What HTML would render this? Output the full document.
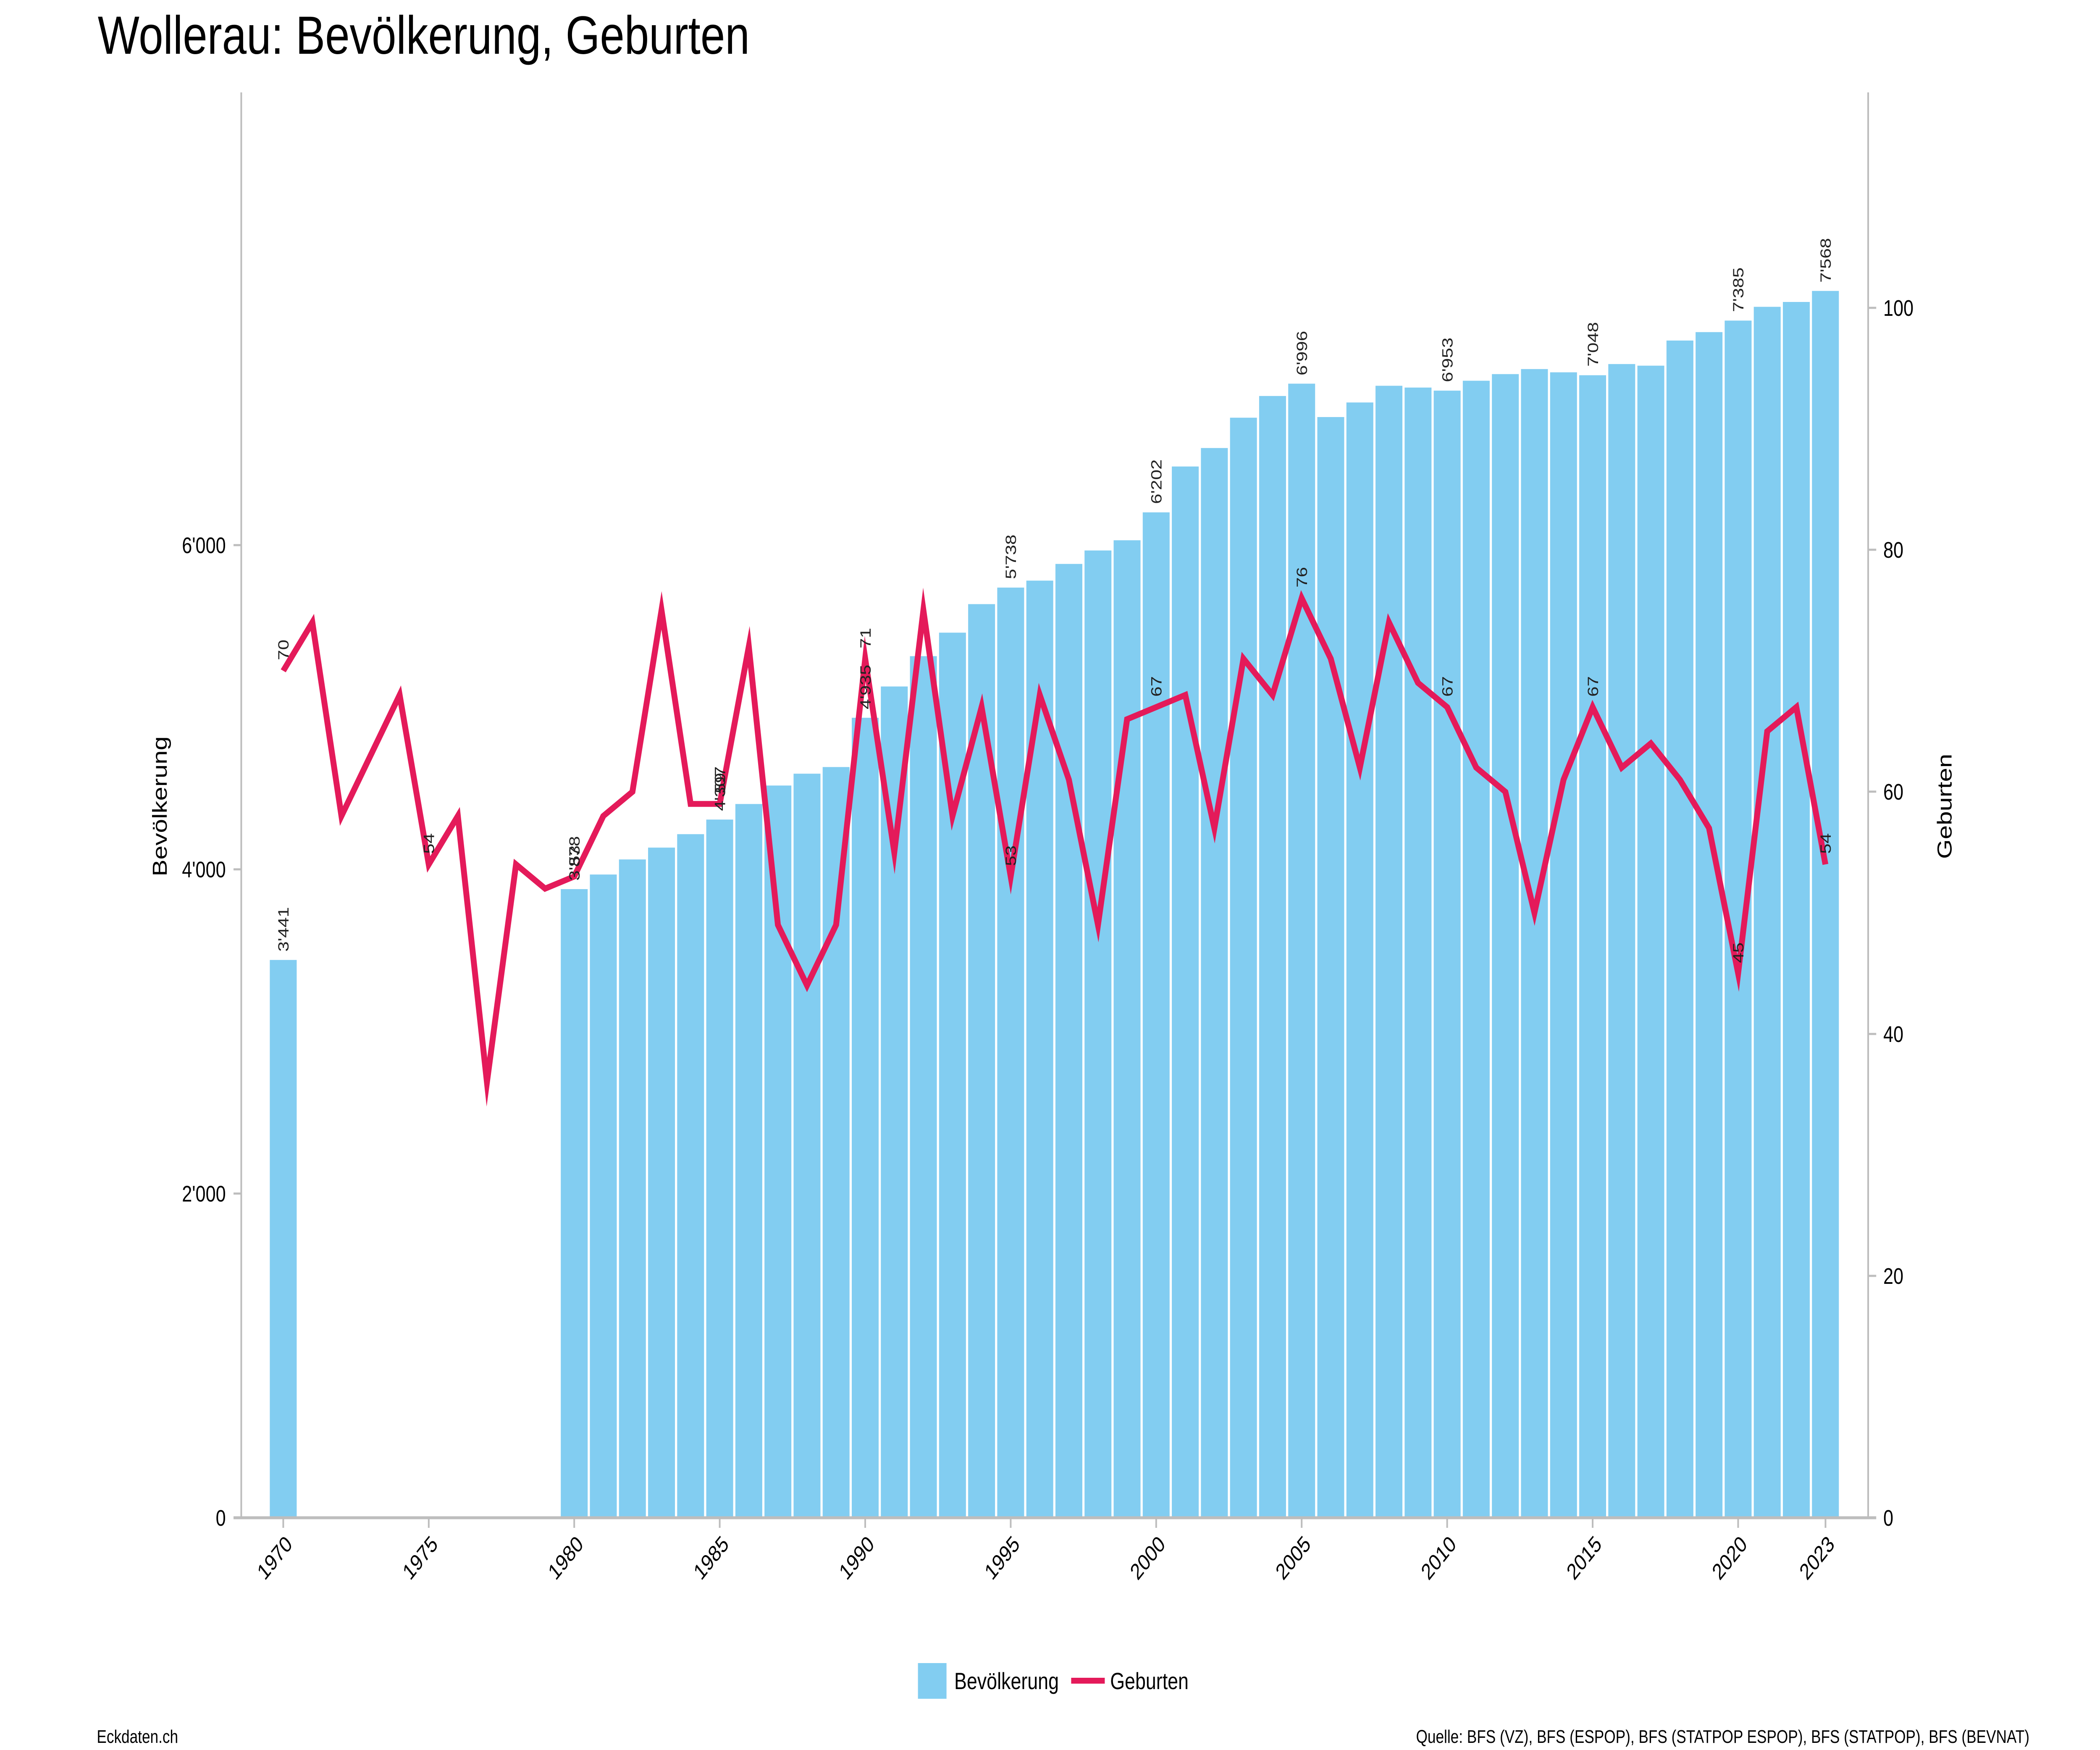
<!DOCTYPE html>
<html><head><meta charset="utf-8"><style>html,body{margin:0;padding:0;background:#fff;width:100%;height:100%;overflow:hidden}svg{display:block;width:100vw;height:100vh}</style></head>
<body>
<svg xmlns="http://www.w3.org/2000/svg" viewBox="0 0 6250 4167" preserveAspectRatio="none" font-family="'Liberation Sans', sans-serif">
<rect width="6250" height="4167" fill="#fff"/>
<text x="291" y="128" font-size="128" textLength="1940" lengthAdjust="spacingAndGlyphs" fill="#000">Wollerau: Bevölkerung, Geburten</text>

<g transform="translate(843,3614) scale(86.6,-0.386)" fill="#82cdf1">
<rect x="-0.462" y="0" width="0.924" height="3441"/>
<rect x="9.538" y="0" width="0.924" height="3878"/>
<rect x="10.538" y="0" width="0.924" height="3968"/>
<rect x="11.538" y="0" width="0.924" height="4061"/>
<rect x="12.538" y="0" width="0.924" height="4134"/>
<rect x="13.538" y="0" width="0.924" height="4217"/>
<rect x="14.538" y="0" width="0.924" height="4307"/>
<rect x="15.538" y="0" width="0.924" height="4403"/>
<rect x="16.538" y="0" width="0.924" height="4517"/>
<rect x="17.538" y="0" width="0.924" height="4590"/>
<rect x="18.538" y="0" width="0.924" height="4631"/>
<rect x="19.538" y="0" width="0.924" height="4935"/>
<rect x="20.538" y="0" width="0.924" height="5128"/>
<rect x="21.538" y="0" width="0.924" height="5315"/>
<rect x="22.538" y="0" width="0.924" height="5460"/>
<rect x="23.538" y="0" width="0.924" height="5636"/>
<rect x="24.538" y="0" width="0.924" height="5738"/>
<rect x="25.538" y="0" width="0.924" height="5781"/>
<rect x="26.538" y="0" width="0.924" height="5884"/>
<rect x="27.538" y="0" width="0.924" height="5967"/>
<rect x="28.538" y="0" width="0.924" height="6030"/>
<rect x="29.538" y="0" width="0.924" height="6202"/>
<rect x="30.538" y="0" width="0.924" height="6485"/>
<rect x="31.538" y="0" width="0.924" height="6599"/>
<rect x="32.538" y="0" width="0.924" height="6786"/>
<rect x="33.538" y="0" width="0.924" height="6920"/>
<rect x="34.538" y="0" width="0.924" height="6996"/>
<rect x="35.538" y="0" width="0.924" height="6790"/>
<rect x="36.538" y="0" width="0.924" height="6880"/>
<rect x="37.538" y="0" width="0.924" height="6983"/>
<rect x="38.538" y="0" width="0.924" height="6972"/>
<rect x="39.538" y="0" width="0.924" height="6953"/>
<rect x="40.538" y="0" width="0.924" height="7014"/>
<rect x="41.538" y="0" width="0.924" height="7055"/>
<rect x="42.538" y="0" width="0.924" height="7086"/>
<rect x="43.538" y="0" width="0.924" height="7066"/>
<rect x="44.538" y="0" width="0.924" height="7048"/>
<rect x="45.538" y="0" width="0.924" height="7117"/>
<rect x="46.538" y="0" width="0.924" height="7107"/>
<rect x="47.538" y="0" width="0.924" height="7262"/>
<rect x="48.538" y="0" width="0.924" height="7314"/>
<rect x="49.538" y="0" width="0.924" height="7385"/>
<rect x="50.538" y="0" width="0.924" height="7470"/>
<rect x="51.538" y="0" width="0.924" height="7500"/>
<rect x="52.538" y="0" width="0.924" height="7568"/>
</g>

<g stroke="#bdbdbd" stroke-width="5" fill="none">
<line x1="718" y1="220" x2="718" y2="3614"/>
<line x1="5560" y1="220" x2="5560" y2="3614"/>
<line x1="695" y1="3614" x2="5584" y2="3614" stroke-width="7"/>
<line x1="695" y1="2842" x2="718" y2="2842"/>
<line x1="695" y1="2070" x2="718" y2="2070"/>
<line x1="695" y1="1298" x2="718" y2="1298"/>
<line x1="5560" y1="3038" x2="5584" y2="3038"/>
<line x1="5560" y1="2462" x2="5584" y2="2462"/>
<line x1="5560" y1="1885" x2="5584" y2="1885"/>
<line x1="5560" y1="1309" x2="5584" y2="1309"/>
<line x1="5560" y1="733" x2="5584" y2="733"/>
<line x1="843" y1="3614" x2="843" y2="3638"/>
<line x1="1276" y1="3614" x2="1276" y2="3638"/>
<line x1="1709" y1="3614" x2="1709" y2="3638"/>
<line x1="2142" y1="3614" x2="2142" y2="3638"/>
<line x1="2575" y1="3614" x2="2575" y2="3638"/>
<line x1="3008" y1="3614" x2="3008" y2="3638"/>
<line x1="3441" y1="3614" x2="3441" y2="3638"/>
<line x1="3874" y1="3614" x2="3874" y2="3638"/>
<line x1="4307" y1="3614" x2="4307" y2="3638"/>
<line x1="4740" y1="3614" x2="4740" y2="3638"/>
<line x1="5173" y1="3614" x2="5173" y2="3638"/>
<line x1="5433" y1="3614" x2="5433" y2="3638"/>
</g>

<g transform="translate(843,3614) scale(86.6,-28.81)">
<polyline fill="none" stroke="#e41a5a" stroke-width="14" vector-effect="non-scaling-stroke" stroke-linejoin="miter" stroke-miterlimit="10"
points="0,70 1,74 2,58 3,63 4,68 5,54 6,58 7,36 8,54 9,52 10,53 11,58 12,60 13,75 14,59 15,59 16,72 17,49 18,44 19,49 20,71 21,55 22,75 23,58 24,67 25,53 26,68 27,61 28,49 29,66 30,67 31,68 32,57 33,71 34,68 35,76 36,71 37,62 38,74 39,69 40,67 41,62 42,60 43,50 44,61 45,67 46,62 47,64 48,61 49,57 50,45 51,65 52,67 53,54"/>
</g>

<g font-size="54" fill="#000">
<text x="672" y="3633" text-anchor="end">0</text>
<text x="672" y="2861" text-anchor="end">2'000</text>
<text x="672" y="2089" text-anchor="end">4'000</text>
<text x="672" y="1317" text-anchor="end">6'000</text>
<text x="5605" y="3633">0</text>
<text x="5605" y="3057">20</text>
<text x="5605" y="2481">40</text>
<text x="5605" y="1904">60</text>
<text x="5605" y="1328">80</text>
<text x="5605" y="752">100</text>
<g text-anchor="end">
<text transform="translate(873,3680) rotate(-45)">1970</text>
<text transform="translate(1306,3680) rotate(-45)">1975</text>
<text transform="translate(1739,3680) rotate(-45)">1980</text>
<text transform="translate(2172,3680) rotate(-45)">1985</text>
<text transform="translate(2605,3680) rotate(-45)">1990</text>
<text transform="translate(3038,3680) rotate(-45)">1995</text>
<text transform="translate(3471,3680) rotate(-45)">2000</text>
<text transform="translate(3904,3680) rotate(-45)">2005</text>
<text transform="translate(4337,3680) rotate(-45)">2010</text>
<text transform="translate(4770,3680) rotate(-45)">2015</text>
<text transform="translate(5203,3680) rotate(-45)">2020</text>
<text transform="translate(5463,3680) rotate(-45)">2023</text>
</g>
</g>

<text transform="translate(496,1920) rotate(-90)" text-anchor="middle" font-size="60" fill="#000">Bevölkerung</text>
<text transform="translate(5808,1920) rotate(-90)" text-anchor="middle" font-size="60" fill="#000">Geburten</text>

<g font-size="44" fill="#222">
<text transform="translate(859,2266) rotate(-90)">3'441</text>
<text transform="translate(1725,2097) rotate(-90)">3'878</text>
<text transform="translate(2158,1931) rotate(-90)">4'307</text>
<text transform="translate(2591,1689) rotate(-90)">4'935</text>
<text transform="translate(3024,1379) rotate(-90)">5'738</text>
<text transform="translate(3457,1200) rotate(-90)">6'202</text>
<text transform="translate(3890,894) rotate(-90)">6'996</text>
<text transform="translate(4323,910) rotate(-90)">6'953</text>
<text transform="translate(4756,873) rotate(-90)">7'048</text>
<text transform="translate(5189,743) rotate(-90)">7'385</text>
<text transform="translate(5449,673) rotate(-90)">7'568</text>

<text transform="translate(859,1572) rotate(-90)">70</text>
<text transform="translate(1292,2033) rotate(-90)">54</text>
<text transform="translate(1725,2062) rotate(-90)">53</text>
<text transform="translate(2158,1889) rotate(-90)">59</text>
<text transform="translate(2591,1544) rotate(-90)">71</text>
<text transform="translate(3024,2062) rotate(-90)">53</text>
<text transform="translate(3457,1659) rotate(-90)">67</text>
<text transform="translate(3890,1399) rotate(-90)">76</text>
<text transform="translate(4323,1659) rotate(-90)">67</text>
<text transform="translate(4756,1659) rotate(-90)">67</text>
<text transform="translate(5189,2293) rotate(-90)">45</text>
<text transform="translate(5449,2033) rotate(-90)">54</text>
</g>

<rect x="2732" y="3960" width="85" height="85" fill="#82cdf1"/>
<text x="2840" y="4022" font-size="56" fill="#000">Bevölkerung</text>
<line x1="3188" y1="4002" x2="3288" y2="4002" stroke="#e41a5a" stroke-width="14"/>
<text x="3304" y="4022" font-size="56" fill="#000">Geburten</text>

<text x="288" y="4150" font-size="44" fill="#000">Eckdaten.ch</text>
<text x="6040" y="4150" font-size="44" fill="#000" text-anchor="end">Quelle: BFS (VZ), BFS (ESPOP), BFS (STATPOP ESPOP), BFS (STATPOP), BFS (BEVNAT)</text>
</svg>
</body></html>
